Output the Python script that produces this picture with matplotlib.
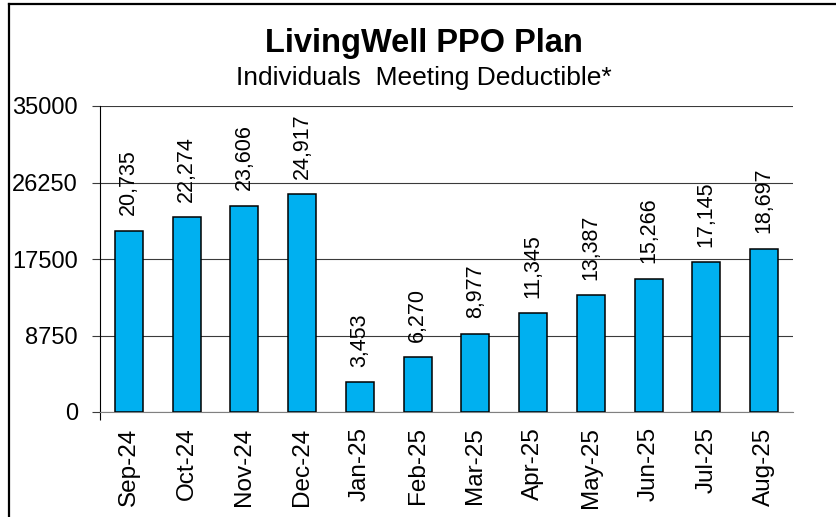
import matplotlib

matplotlib.use("Agg")
import matplotlib.pyplot as plt
from matplotlib.lines import Line2D

plt.rcParams["font.family"] = ["Liberation Sans", "DejaVu Sans"]

months = ["Sep-24", "Oct-24", "Nov-24", "Dec-24", "Jan-25", "Feb-25",
          "Mar-25", "Apr-25", "May-25", "Jun-25", "Jul-25", "Aug-25"]
members = [20735, 22274, 23606, 24917, 3453, 6270,
           8977, 11345, 13387, 15266, 17145, 18697]
yticks = [0, 8750, 17500, 26250, 35000]

BAR_COLOR = "#00B0F0"
GRID = "#3a3a3a"

fig = plt.figure(figsize=(8.37, 5.17), dpi=100)
ax = fig.add_axes([100 / 837, 105 / 517, 693 / 837, 306 / 517])

x = list(range(len(months)))
bars = ax.bar(x, members, width=0.485, color=BAR_COLOR,
              edgecolor="black", linewidth=1.1, zorder=3)

for b, v in zip(bars, members):
    ax.annotate(f"{v:,}", (b.get_x() + b.get_width() / 2, v),
                xytext=(0, 11), textcoords="offset points",
                rotation=90, ha="center", va="bottom", fontsize=15.5)

ax.set_xlim(-0.5, len(months) - 0.5)
ax.set_ylim(0, 35000)
ax.set_yticks(yticks)
ax.set_yticklabels([str(t) for t in yticks], fontsize=17)
ax.set_xticks(x)
ax.set_xticklabels(months, rotation=90, fontsize=17.5)
ax.set_xticks([-0.5], minor=True)

ax.grid(axis="y", color=GRID, linewidth=0.8, zorder=0)
ax.tick_params(axis="y", length=5.8, width=0.8, color=GRID, pad=10)
ax.tick_params(axis="x", which="major", length=0, pad=11)
ax.tick_params(axis="x", which="minor", length=5.8, width=0.8,
               color="black", direction="out")

for side in ("top", "right"):
    ax.spines[side].set_visible(False)
ax.spines["left"].set_color("black")
ax.spines["left"].set_linewidth(0.8)
ax.spines["bottom"].set_color("#808080")
ax.spines["bottom"].set_linewidth(0.8)

fig.text(424 / 837, 1 - 52 / 517, "LivingWell PPO Plan",
         ha="center", va="baseline", fontsize=23.5, fontweight="bold")
fig.text(424 / 837, 1 - 85 / 517, "Individuals  Meeting Deductible*",
         ha="center", va="baseline", fontsize=19)

# chart frame (only left and top edges are inside the picture)
fig.add_artist(Line2D([9 / 837, 9 / 837], [0, 1 - 4 / 517],
                      transform=fig.transFigure, color="black", lw=1.6))
fig.add_artist(Line2D([9 / 837, 1], [1 - 4 / 517, 1 - 4 / 517],
                      transform=fig.transFigure, color="black", lw=1.6))

fig.savefig("out.png", dpi=100)
